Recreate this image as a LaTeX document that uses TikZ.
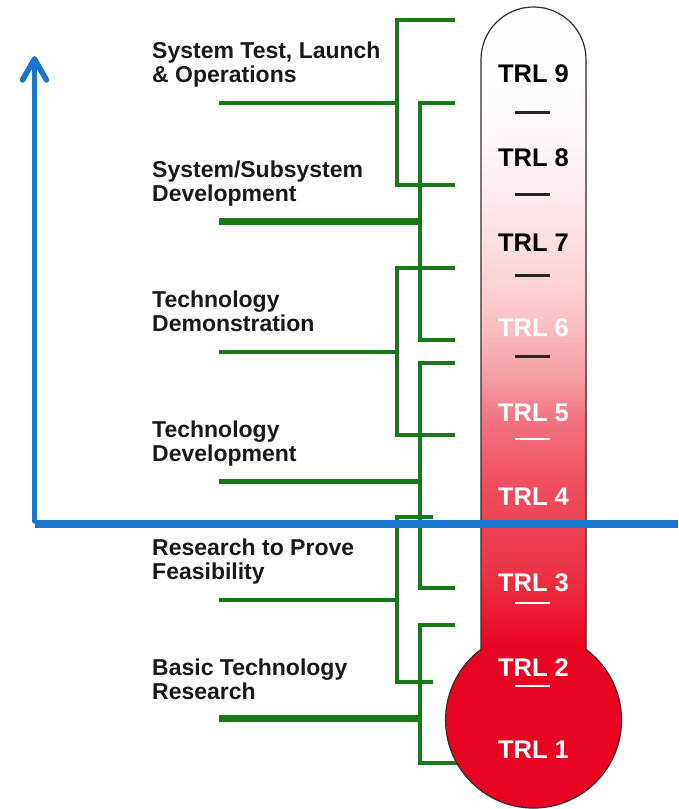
\documentclass[tikz,border=0pt]{standalone}
\usepackage{fontspec}
\setmainfont{Liberation Sans}
\definecolor{grn}{RGB}{22,122,22}
\definecolor{labtext}{RGB}{25,25,25}
\definecolor{axblue}{RGB}{26,117,204}
\definecolor{bulbred}{RGB}{232,4,32}
\definecolor{outl}{RGB}{55,45,45}
\definecolor{s1}{RGB}{255,255,255}
\definecolor{s2}{RGB}{255,250,250}
\definecolor{s3}{RGB}{253,235,237}
\definecolor{s4}{RGB}{251,211,215}
\definecolor{s5}{RGB}{249,188,194}
\definecolor{s6}{RGB}{245,154,163}
\definecolor{s7}{RGB}{242,115,128}
\definecolor{s8}{RGB}{239,79,94}
\definecolor{s9}{RGB}{237,58,74}
\begin{document}
\begin{tikzpicture}[x=1pt,y=1pt,
  gline/.style={draw=grn, line width=4pt, line cap=butt, line join=miter},
  lab/.style={anchor=base west, inner sep=0pt, text=labtext,
    font=\fontsize{23}{24}\selectfont\bfseries},
  trl/.style={anchor=base, inner sep=0pt,
    font=\fontsize{25.5}{26}\selectfont\bfseries},
  tickline/.style={line width=3pt},
  axisline/.style={draw=axblue, line cap=round, line join=round}
]
\useasboundingbox (0,0) rectangle (678,809);
\fill[white] (0,0) rectangle (678,809);

% ---------- green brackets ----------
% phase 1
\draw[gline] (455,789) -- (397,789) -- (397,624) -- (455,624);
\draw[gline, line width=3.5pt] (219,706) -- (397,706);
% phase 2
\draw[gline] (455,706) -- (420,706) -- (420,469) -- (455,469);
\draw[gline, line width=7pt] (219,587) -- (420,587);
% phase 3
\draw[gline] (455,541) -- (397,541) -- (397,374) -- (455,374);
\draw[gline, line width=3.5pt] (219,457) -- (397,457);
% phase 4
\draw[gline] (455,446) -- (420,446) -- (420,221) -- (455,221);
\draw[gline, line width=5pt] (219,327) -- (420,327);
% phase 5
\draw[gline] (433,292) -- (397,292) -- (397,127) -- (433,127);
\draw[gline] (219,209) -- (397,209);
% phase 6
\draw[gline] (455,184) -- (420,184) -- (420,46) -- (470,46);
\draw[gline, line width=7pt] (219,90) -- (420,90);

% ---------- labels ----------
\node[lab] (p1a) at (152,750) {System Test, Launch};
\node[lab] (p1b) at (152,726) {\& Operations};
\node[lab] (p2a) at (152,631) {System/Subsystem};
\node[lab] (p2b) at (152,607) {Development};
\node[lab] (p3a) at (152,501) {Technology};
\node[lab] (p3b) at (152,477) {Demonstration};
\node[lab] (p4a) at (152,371) {Technology};
\node[lab] (p4b) at (152,347) {Development};
\node[lab] (p5a) at (152,253) {Research to Prove};
\node[lab] (p5b) at (152,229) {Feasibility};
\node[lab] (p6a) at (152,133) {Basic Technology};
\node[lab] (p6b) at (152,109) {Research};

% ---------- thermometer ----------
\def\thermopath{(481,159.6) -- (481,749.5) arc[start angle=180, end angle=0, radius=52.5]
  -- (586,159.6) arc[start angle=53.4, end angle=-233.4, radius=88] -- cycle}
\begin{scope}
\clip \thermopath;
\fill[top color=s1, bottom color=s2] (470,803) rectangle (600,688.5);
\fill[top color=s2, bottom color=s3] (470,689) rectangle (600,608.5);
\fill[top color=s3, bottom color=s4] (470,609) rectangle (600,528.5);
\fill[top color=s4, bottom color=s5] (470,529) rectangle (600,478.5);
\fill[top color=s5, bottom color=s6] (470,479) rectangle (600,428.5);
\fill[top color=s6, bottom color=s7] (470,429) rectangle (600,388.5);
\fill[top color=s7, bottom color=s8] (470,389) rectangle (600,328.5);
\fill[top color=s8, bottom color=s9] (470,329) rectangle (600,248.5);
\fill[top color=s9, bottom color=bulbred] (470,249) rectangle (600,159.2);
\fill[bulbred] (430,159.6) rectangle (640,0);
\end{scope}
\draw[outl, line width=1.2pt] \thermopath;

% TRL labels
\node[trl, text=black] (t9) at (533.5,726) {TRL 9};
\node[trl, text=black] (t8) at (533.5,642) {TRL 8};
\node[trl, text=black] (t7) at (533.5,557) {TRL 7};
\node[trl, text=white] (t6) at (533.5,472) {TRL 6};
\node[trl, text=white] (t5) at (533.5,387) {TRL 5};
\node[trl, text=white] (t4) at (533.5,303) {TRL 4};
\node[trl, text=white] (t3) at (533.5,217) {TRL 3};
\node[trl, text=white] (t2) at (533.5,132) {TRL 2};
\node[trl, text=white] (t1) at (533.5,50) {TRL 1};

% tick dashes
\draw[tickline, black!85] (515,696) -- (550,696);
\draw[tickline, black!85] (515,614) -- (550,614);
\draw[tickline, black!85] (515,533) -- (550,533);
\draw[tickline, black!85] (515,452) -- (550,452);
\draw[tickline, white, line width=2.5pt] (515,370) -- (550,370);
\draw[tickline, white, line width=2.5pt] (515,288) -- (550,288);
\draw[tickline, white, line width=2.5pt] (515,206) -- (550,206);
\draw[tickline, white, line width=2.5pt] (515,123) -- (550,123);

% ---------- blue axes ----------
\coordinate (axcorner) at (34.5,288);
\coordinate (axtop) at (34.5,750);
\coordinate (axright) at (678,285);
\draw[axisline, line width=5.5pt] (axcorner) -- (axtop);
\draw[axisline, line width=5.5pt] ([xshift=-12pt,yshift=-21pt]axtop) -- (axtop) -- ([xshift=12pt,yshift=-21pt]axtop);
\draw[draw=axblue, line width=8pt, line cap=butt] (35,285) -- (axright);
\end{tikzpicture}
\end{document}
